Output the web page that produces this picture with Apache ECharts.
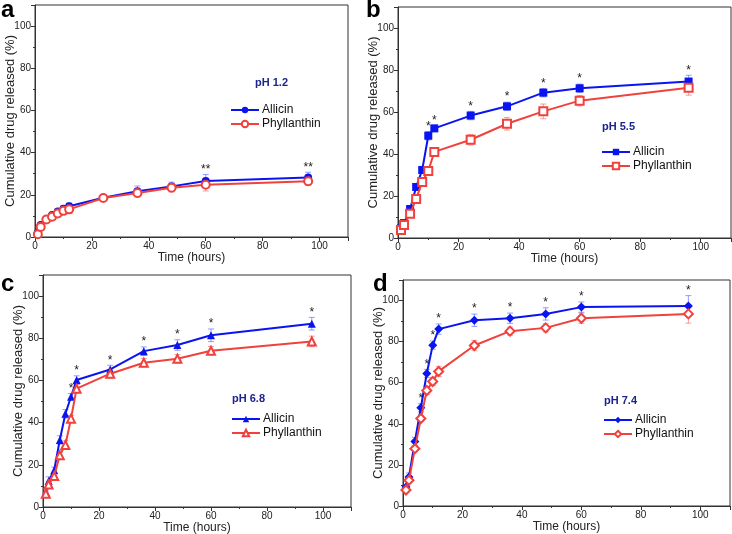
<!DOCTYPE html>
<html>
<head>
<meta charset="utf-8">
<script src="https://cdn.jsdelivr.net/npm/echarts@6/dist/echarts.min.js"></script>
<style>
  html, body { margin: 0; padding: 0; background: #fff; }
  #main { width: 732px; height: 534px; }
</style>
</head>
<body>
<div id="main"></div>
<script>
// sampling times (hours)
const times = [1, 2, 4, 6, 8, 10, 12, 24, 36, 48, 60, 96];

// pH 1.2
const allicinA = [2.1, 5.7, 8.3, 10.4, 12.1, 13.4, 14.6, 18.6, 21.7, 24.0, 26.6, 28.2];
const allicinErrA = [1, 1, 1, 1, 1, 1.5, 1.5, 1.5, 2.5, 2, 3, 2.5];
const phyllA = [1.3, 4.8, 8.3, 9.6, 11.1, 12.4, 13.1, 18.5, 20.9, 23.4, 24.8, 26.4];
const phyllErrA = [1, 1, 1, 1, 1, 1.5, 2, 1.5, 2, 2, 3, 2];
const starsA = [60, 96];

// pH 5.5
const allicinB = [4.6, 7.1, 13.8, 24.3, 32.4, 48.7, 52.2, 58.3, 62.7, 69.2, 71.3, 74.5];
const allicinErrB = [1, 1, 1.5, 1.5, 1.5, 2, 1.5, 2, 2, 2, 2, 3];
const phyllB = [3.8, 6.2, 11.6, 18.6, 26.7, 31.9, 41.0, 46.8, 54.4, 60.3, 65.4, 71.5];
const phyllErrB = [1, 1, 1, 1.5, 1.5, 1.5, 2, 2.5, 3, 3.5, 2.5, 3.5];
const starsB = [10, 12, 24, 36, 48, 60, 96];

// pH 6.8
const allicinC = [7.1, 12.3, 17.4, 31.8, 44.2, 52.3, 60.2, 65.2, 73.9, 76.8, 81.4, 86.9];
const allicinErrC = [1, 2, 1.5, 2, 2, 1.5, 2, 2, 2, 2.5, 3, 3];
const phyllC = [6.3, 10.7, 14.7, 24.5, 29.4, 41.9, 56.1, 63.2, 68.4, 70.3, 74.1, 78.5];
const phyllErrC = [1, 1.5, 1.5, 2, 2, 1.5, 2, 2, 2, 2, 2, 2.5];
const starsC = [10, 12, 24, 36, 48, 60, 96];

// pH 7.4
const allicinD = [9.2, 14.1, 31.4, 47.8, 64.5, 78.3, 86.1, 90.4, 91.4, 93.5, 96.8, 97.4];
const allicinErrD = [1, 2, 2, 2, 2, 2, 2.5, 3, 2.5, 3, 2.5, 5];
const phyllD = [7.8, 12.5, 27.9, 42.6, 56.2, 60.6, 65.5, 78.1, 85.1, 86.7, 91.4, 93.5];
const phyllErrD = [1, 1, 1.5, 1.5, 2, 2, 2.5, 2.5, 2, 2, 2.5, 4.5];
const starsD = [6, 8, 10, 12, 24, 36, 48, 60, 96];

const BLUE = '#0a14f0';
const RED = '#f0413c';
const FONT = 'Liberation Sans, Arial, sans-serif';

// panel layout
const panels = [
  { key: 'a', ph: 'pH 1.2', mark: '**', sym: 'circle', allicin: allicinA, aErr: allicinErrA, phyll: phyllA, pErr: phyllErrA, stars: starsA,
    grid: { left: 35, top: 5, width: 313, height: 232 }, phPos: [255, 77], legendPos: [230, 104], letterPos: [1, -2] },
  { key: 'b', ph: 'pH 5.5', mark: '*', sym: 'rect', allicin: allicinB, aErr: allicinErrB, phyll: phyllB, pErr: phyllErrB, stars: starsB,
    grid: { left: 398, top: 7, width: 333, height: 231 }, phPos: [602, 121], legendPos: [601, 146], letterPos: [366, -2] },
  { key: 'c', ph: 'pH 6.8', mark: '*', sym: 'triangle', allicin: allicinC, aErr: allicinErrC, phyll: phyllC, pErr: phyllErrC, stars: starsC,
    grid: { left: 43, top: 275, width: 308, height: 232 }, phPos: [232, 393], legendPos: [231, 413], letterPos: [1, 272] },
  { key: 'd', ph: 'pH 7.4', mark: '*', sym: 'diamond', allicin: allicinD, aErr: allicinErrD, phyll: phyllD, pErr: phyllErrD, stars: starsD,
    grid: { left: 403, top: 280, width: 327, height: 226 }, phPos: [604, 395], legendPos: [603, 414], letterPos: [373, 272] }
];

function pairs(vals) {
  return times.map((t, i) => [t, vals[i]]);
}

function errData(vals, errs) {
  return times.map((t, i) => [t, vals[i] - errs[i], vals[i] + errs[i]]);
}

function errorSeries(idx, vals, errs, color) {
  return {
    type: 'custom',
    xAxisIndex: idx,
    yAxisIndex: idx,
    silent: true,
    z: 1,
    data: errData(vals, errs),
    renderItem: function (params, api) {
      const lo = api.coord([api.value(0), api.value(1)]);
      const hi = api.coord([api.value(0), api.value(2)]);
      const w = 3;
      const style = { stroke: color, lineWidth: 1 };
      return {
        type: 'group',
        children: [
          { type: 'line', shape: { x1: lo[0], y1: lo[1], x2: hi[0], y2: hi[1] }, style: style },
          { type: 'line', shape: { x1: lo[0] - w, y1: lo[1], x2: lo[0] + w, y2: lo[1] }, style: style },
          { type: 'line', shape: { x1: hi[0] - w, y1: hi[1], x2: hi[0] + w, y2: hi[1] }, style: style }
        ]
      };
    }
  };
}

// significance marks sit just above the Allicin error bar
function starSeries(idx, p) {
  const data = p.stars.map(t => {
    const i = times.indexOf(t);
    return [t, p.allicin[i] + p.aErr[i]];
  });
  return {
    type: 'custom',
    xAxisIndex: idx,
    yAxisIndex: idx,
    silent: true,
    z: 5,
    data: data,
    renderItem: function (params, api) {
      const pt = api.coord([api.value(0), api.value(1)]);
      return {
        type: 'text',
        x: pt[0],
        y: pt[1] + 1,
        style: { text: p.mark, fill: '#222', font: '12px ' + FONT, align: 'center', verticalAlign: 'bottom' }
      };
    }
  };
}

const grids = [], xAxes = [], yAxes = [], series = [], legends = [], titles = [];

panels.forEach((p, idx) => {
  grids.push(Object.assign({ show: true, borderColor: '#333', borderWidth: 1, backgroundColor: 'transparent',
    containLabel: false, outerBoundsMode: 'none' }, p.grid));

  xAxes.push({
    gridIndex: idx,
    type: 'value',
    min: 0,
    max: 110,
    interval: 20,
    name: 'Time (hours)',
    nameLocation: 'middle',
    nameGap: 15,
    nameMoveOverlap: false,
    nameTextStyle: { fontFamily: FONT, fontSize: 12, color: '#222' },
    axisLine: { lineStyle: { color: '#333' } },
    axisTick: { inside: false, length: 4, lineStyle: { color: '#333' } },
    minorTick: { show: true, splitNumber: 2, length: 2, lineStyle: { color: '#333' } },
    axisLabel: { fontFamily: FONT, fontSize: 10, color: '#222', margin: 4, showMaxLabel: false },
    splitLine: { show: false }
  });

  yAxes.push({
    gridIndex: idx,
    type: 'value',
    min: 0,
    max: 110,
    interval: 20,
    name: 'Cumulative drug released (%)',
    nameLocation: 'middle',
    nameGap: 18,
    nameMoveOverlap: false,
    nameTextStyle: { fontFamily: FONT, fontSize: 13, color: '#222' },
    axisLine: { show: true, lineStyle: { color: '#333' } },
    axisTick: { show: true, inside: false, length: 4, lineStyle: { color: '#333' } },
    minorTick: { show: true, splitNumber: 2, length: 2, lineStyle: { color: '#333' } },
    axisLabel: { fontFamily: FONT, fontSize: 10, color: '#222', margin: 4, showMaxLabel: false },
    splitLine: { show: false }
  });

  series.push(errorSeries(idx, p.allicin, p.aErr, 'rgba(60,80,255,0.55)'));
  series.push(errorSeries(idx, p.phyll, p.pErr, 'rgba(240,80,80,0.55)'));

  const size = p.sym === 'diamond' ? 9 : 8;

  series.push({
    name: p.key + ':Allicin',
    type: 'line',
    xAxisIndex: idx,
    yAxisIndex: idx,
    data: pairs(p.allicin),
    symbol: p.sym,
    symbolSize: size,
    color: BLUE,
    lineStyle: { width: 2, color: BLUE },
    itemStyle: { color: BLUE },
    z: 3,
    animation: false
  });

  series.push({
    name: p.key + ':Phyllanthin',
    type: 'line',
    xAxisIndex: idx,
    yAxisIndex: idx,
    data: pairs(p.phyll),
    symbol: 'empty' + p.sym.charAt(0).toUpperCase() + p.sym.slice(1),
    symbolSize: size,
    color: RED,
    lineStyle: { width: 2, color: RED },
    itemStyle: { color: RED, borderWidth: 1.2 },
    z: 4,
    animation: false
  });

  series.push(starSeries(idx, p));

  legends.push({
    data: [p.key + ':Allicin', p.key + ':Phyllanthin'],
    orient: 'vertical',
    left: p.legendPos[0],
    top: p.legendPos[1],
    itemWidth: 28,
    itemHeight: 8,
    itemGap: 2,
    padding: 0,
    selectedMode: false,
    formatter: name => name.split(':')[1],
    textStyle: { fontFamily: FONT, fontSize: 12, color: '#111', padding: [0, 0, 0, -2] }
  });

  titles.push({
    text: p.ph,
    left: p.phPos[0],
    top: p.phPos[1],
    padding: 0,
    textStyle: { fontFamily: FONT, fontSize: 11, fontWeight: 'bold', color: '#1c2390' }
  });

  titles.push({
    text: p.key,
    left: p.letterPos[0],
    top: p.letterPos[1],
    padding: 0,
    textStyle: { fontFamily: FONT, fontSize: 24, fontWeight: 'bold', color: '#000' }
  });
});

const chart = echarts.init(document.getElementById('main'), null, { renderer: 'canvas' });
chart.setOption({
  backgroundColor: '#fff',
  animation: false,
  title: titles,
  legend: legends,
  grid: grids,
  xAxis: xAxes,
  yAxis: yAxes,
  series: series
});
</script>
</body>
</html>
